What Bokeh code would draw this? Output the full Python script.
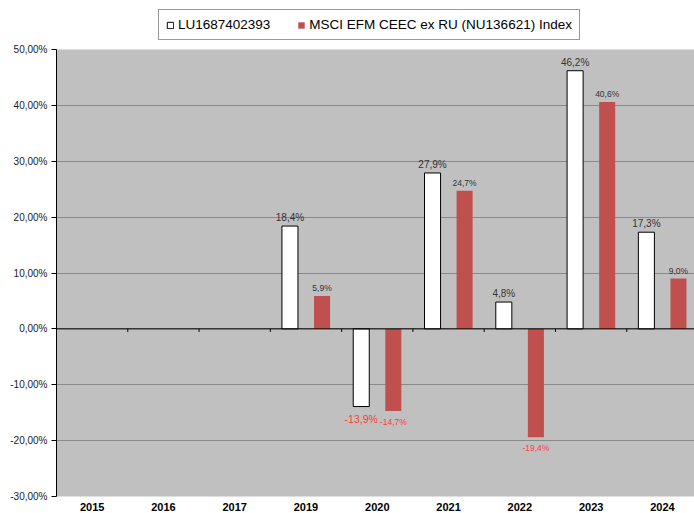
import numpy as np
from bokeh.plotting import figure
from bokeh.layouts import column
from bokeh.models import (ColumnDataSource, Range1d, FixedTicker, Span,
                          Legend, LegendItem)
from bokeh.core.properties import value
from bokeh.embed import file_html
from bokeh.resources import INLINE

# ---- data ----
years = ["2015", "2016", "2017", "2019", "2020", "2021", "2022", "2023", "2024"]
fund = [np.nan, np.nan, np.nan, 18.4, -13.9, 27.9, 4.8, 46.2, 17.3]
bench = [np.nan, np.nan, np.nan, 5.9, -14.7, 24.7, -19.4, 40.6, 9.0]
fund_name = "LU1687402393"
bench_name = "MSCI EFM CEEC ex RU (NU136621) Index"
y_ticks = [-30, -20, -10, 0, 10, 20, 30, 40, 50]
y_tick_labels = ["-30,00%", "-20,00%", "-10,00%", "0,00%", "10,00%",
                 "20,00%", "30,00%", "40,00%", "50,00%"]

FONT = "Liberation Sans"
RED = "#c0504d"
BG = "#c0c0c0"


def fmt(v):
    return f"{v:.1f}".replace(".", ",") + "%"


centers = np.arange(len(years)) + 0.5
off = 0.225
barw = 0.225


def make_src(vals, shift):
    v = np.array(vals, dtype=float)
    return ColumnDataSource(dict(x=centers + shift, top=v))


def label_src(vals, shift, positive):
    v = np.array(vals, dtype=float)
    mask = ~np.isnan(v) & ((v >= 0) if positive else (v < 0))
    return ColumnDataSource(dict(x=(centers + shift)[mask], y=v[mask],
                                 t=[fmt(a) for a in v[mask]]))


p = figure(width=694, height=470, output_backend="svg", toolbar_location=None,
           x_range=Range1d(0, 8.95), y_range=Range1d(-30, 50),
           min_border_left=56, min_border_right=0, min_border_top=6,
           min_border_bottom=0)
p.background_fill_color = BG
p.border_fill_color = "white"
p.outline_line_color = None
p.xgrid.grid_line_color = None
p.ygrid.grid_line_color = "#8a8a8a"
p.ygrid.ticker = FixedTicker(ticks=y_ticks)

# y axis
ya = p.yaxis[0]
ya.ticker = FixedTicker(ticks=y_ticks)
ya.major_label_overrides = {t: l for t, l in zip(y_ticks, y_tick_labels)}
ya.major_label_text_font = FONT
ya.major_label_text_font_size = "10px"
ya.major_label_text_color = "#222222"
ya.axis_line_color = "black"
ya.major_tick_line_color = "black"
ya.major_tick_out = 5
ya.major_tick_in = 0
ya.minor_tick_line_color = None
ya.major_label_standoff = 4

# x axis (labels only)
xa = p.xaxis[0]
xa.ticker = FixedTicker(ticks=list(centers))
xa.major_label_overrides = {float(c): y for c, y in zip(centers, years)}
xa.major_label_text_font = FONT
xa.major_label_text_font_size = "11px"
xa.major_label_text_font_style = "bold"
xa.major_label_text_color = "black"
xa.axis_line_color = None
xa.major_tick_line_color = None
xa.minor_tick_line_color = None
xa.major_tick_out = 0
xa.major_tick_in = 0
xa.major_label_standoff = 6

# zero line with category separators
p.add_layout(Span(location=0, dimension="width", line_color="black", line_width=1))
bounds = np.arange(1, len(years))
p.segment(x0=bounds, x1=bounds, y0=np.zeros(len(bounds)),
          y1=np.full(len(bounds), -0.55), line_color="black", line_width=1)

# bars
bar1 = dict(fill_color="white", line_color="black", line_width=1)
bar2 = dict(fill_color=RED, line_color=None)
p.vbar(x="x", top="top", bottom=0, width=barw, source=make_src(fund, -off), **bar1)
p.vbar(x="x", top="top", bottom=0, width=barw, source=make_src(bench, off), **bar2)

# data labels
p.text(x="x", y="y", text="t", source=label_src(fund, -off, True),
       text_font=value(FONT), text_font_size="10px", text_color="#333333",
       text_align="center", text_baseline="bottom", y_offset=-3)
p.text(x="x", y="y", text="t", source=label_src(bench, off, True),
       text_font=value(FONT), text_font_size="8.5px", text_color="#333333",
       text_align="center", text_baseline="bottom", y_offset=-3)
p.text(x="x", y="y", text="t", source=label_src(fund, -off, False),
       text_font=value(FONT), text_font_size="10.5px", text_color="#ff3b3b",
       text_align="center", text_baseline="top", y_offset=6)
p.text(x="x", y="y", text="t", source=label_src(bench, off, False),
       text_font=value(FONT), text_font_size="8.5px", text_color="#ff3b3b",
       text_align="center", text_baseline="top", y_offset=6)

# legend strip on top
lg = figure(width=694, height=43, output_backend="svg", toolbar_location=None,
            x_range=Range1d(0, 1), y_range=Range1d(0, 1),
            x_axis_type=None, y_axis_type=None,
            min_border=0, outline_line_color=None)
lg.xgrid.visible = False
lg.ygrid.visible = False
dummy = dict(x=[np.nan], top=[np.nan])
l1 = lg.vbar(x="x", top="top", width=0.1, source=ColumnDataSource(dummy), **bar1)
l2 = lg.vbar(x="x", top="top", width=0.1, source=ColumnDataSource(dummy), **bar2)
legend = Legend(items=[LegendItem(label=fund_name, renderers=[l1]),
                       LegendItem(label=bench_name, renderers=[l2])],
                orientation="horizontal", location=(102, 3), margin=0,
                glyph_width=8, glyph_height=8, label_standoff=4, spacing=27,
                padding=7, label_height=14,
                label_text_font=FONT, label_text_font_size="13.5px",
                label_text_color="black",
                border_line_color="#333333", border_line_width=1,
                background_fill_color="white", background_fill_alpha=1)
lg.add_layout(legend, "center")

layout = column(lg, p, spacing=0)
open("out.html", "w").write(file_html(layout, INLINE))
